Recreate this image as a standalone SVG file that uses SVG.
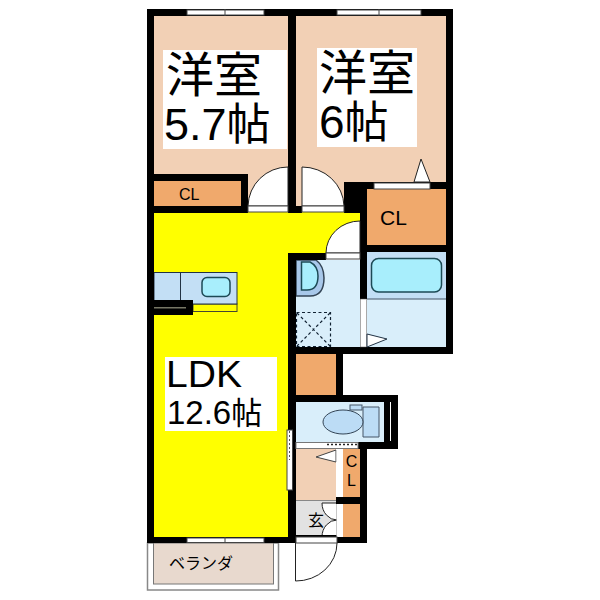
<svg xmlns="http://www.w3.org/2000/svg" width="600" height="600" viewBox="0 0 600 600">
<style>
.w{fill:#000}.win{fill:#fff;stroke:#444;stroke-width:1}
.peach{fill:#f2d0b5}.or{fill:#f0a96c}.lb{fill:#d9eefa}.mb{fill:#c3dff5}.cy{fill:#a8eefc;stroke:#1c4a55;stroke-width:1.500}
.lab{fill:#fff}.t{font-family:"Liberation Sans","Noto Sans CJK JP",sans-serif;fill:#000}
.j{font-family:"Noto Sans CJK JP",sans-serif;fill:#000}
.arc{fill:#fff;stroke:#222;stroke-width:1}
</style>
<rect width="600" height="600" fill="#fff"/>
<g id="veranda"><rect x="147.500" y="543" width="131" height="47" fill="#fff" stroke="#888" stroke-width="1.500"/><rect x="153.500" y="543" width="120" height="41" fill="#e8d9ce" stroke="#777" stroke-width="1"/>
<text class="j" x="169" y="569" font-size="16" textLength="64">ベランダ</text></g>
<g id="ldk"><path d="M150 209H364V256H292V540H150Z" fill="#ff0"/></g>
<g id="room1"><rect x="150" y="12" width="140" height="196" class="peach"/></g>
<g id="room2"><rect x="292" y="12" width="158" height="196" class="peach"/></g>
<g id="cl1"><rect x="154" y="181" width="87" height="25" class="or"/><text class="t" x="179" y="200" font-size="16">CL</text></g>
<g id="cl2"><rect x="367" y="189" width="79" height="56" class="or"/><text class="t" x="380" y="225" font-size="21">CL</text></g>
<g id="bath"><rect x="367" y="252" width="79" height="95" class="lb"/><rect x="367" y="252" width="79" height="47" class="mb"/><rect x="371.500" y="258.500" width="70" height="33.500" rx="7" class="cy"/><path d="M367 299H446" stroke="#456" stroke-width="1"/></g>
<g id="wash"><rect x="296" y="260" width="64" height="87" class="lb"/>
<path d="M296 260H316Q324 266 324 278Q324 296 310 296H296Z" fill="#a8c8ea" stroke="#345" stroke-width="1.500"/>
<path d="M301.500 262H310Q318 266 318 276Q318 290 307 290H301.500Z" class="cy"/>
<path d="M296.500 312.500H330.500V346.500H296.500ZM297 313L330 346M330 313L297 346" fill="none" stroke="#123" stroke-width="1.200" stroke-dasharray="3 2.500"/></g>
<g id="closet"><rect x="296" y="354" width="40" height="41" class="or"/></g>
<g id="toilet"><rect x="296" y="402" width="88" height="40" class="lb"/>
<path d="M363 407H379V437H363Z" fill="#bcdcf5" stroke="#456" stroke-width="1"/><rect x="350" y="405" width="12" height="5" fill="#bcdcf5" stroke="#456" stroke-width="1"/>
<ellipse cx="343" cy="422" rx="20" ry="12" fill="#bcdcf5" stroke="#345" stroke-width="1"/></g>
<g id="hall"><rect x="296" y="449" width="40" height="51" class="peach"/><path d="M336 450L316 457L336 462Z" fill="#fff" stroke="#444" stroke-width="1"/></g>
<g id="cl3"><rect x="343" y="449" width="17" height="48" class="or"/><text class="t" x="351.500" y="467" font-size="16" text-anchor="middle">C</text><text class="t" x="351.500" y="486" font-size="16" text-anchor="middle">L</text></g>
<g id="cl4"><rect x="343" y="504" width="17" height="33" class="or"/></g>
<g id="genkan"><rect x="296" y="500" width="41" height="35" fill="#e2e2e2"/><path d="M296 500.500H337" stroke="#888"/>
<path d="M337 503H322A15 17 0 0 0 337 520ZM337 537H322A15 17 0 0 1 337 520Z" class="arc"/>
<text class="j" x="308" y="526" font-size="16">玄</text></g>
<g id="kitchen"><rect x="193" y="304" width="44" height="7.500" fill="#ff0" stroke="#443" stroke-width="1"/><rect x="154" y="272.500" width="83" height="31.500" class="mb" stroke="#234" stroke-width="1"/><path d="M180.500 272V304" stroke="#234"/>
<rect x="202" y="277.500" width="28" height="19" rx="5" class="cy"/></g>
<g id="walls" class="w">
<rect x="147" y="9" width="306" height="7"/><rect x="147" y="9" width="7" height="534"/><rect x="288" y="9" width="8" height="204"/><rect x="446" y="9" width="7" height="345"/>
<rect x="154" y="174" width="94" height="7"/><rect x="241" y="174" width="7" height="39"/><rect x="147" y="206" width="101" height="7"/><rect x="288" y="206" width="14" height="7"/>
<rect x="344" y="182" width="109" height="7"/><rect x="344" y="182" width="23" height="31"/><rect x="360" y="189" width="7" height="110"/><rect x="360" y="245" width="93" height="7"/>
<rect x="288" y="253" width="38" height="7"/><rect x="288" y="253" width="8" height="177"/><rect x="293" y="430" width="3" height="60"/><rect x="288" y="490" width="8" height="53"/>
<rect x="288" y="347" width="165" height="7"/><rect x="336" y="354" width="7" height="48"/><rect x="296" y="395" width="102" height="7"/><rect x="384" y="395" width="14" height="54"/><rect x="358" y="442" width="40" height="7"/>
<rect x="360" y="449" width="7" height="94"/><rect x="336" y="497" width="31" height="7"/><rect x="147" y="537" width="149" height="6"/><rect x="336" y="537" width="31" height="6"/><rect x="296" y="535" width="41" height="2"/>
<rect x="147" y="300" width="46" height="15"/></g>
<g id="fixtures">
<rect x="154" y="307" width="32" height="1.500" fill="#776"/>
<path d="M390.500 402V441" stroke="#fff" stroke-width="1"/>
<rect x="360.500" y="299" width="6" height="48" fill="#fff" stroke="#555" stroke-width=".5"/><path d="M367 334L387 339L367 347Z" fill="#fff" stroke="#234"/>
<rect x="296" y="442.500" width="62" height="6" fill="#fff" stroke="#777" stroke-width="1"/><path d="M327 444.500H358" stroke="#222" stroke-width="1.500" stroke-dasharray="2 2"/>
<rect x="336.500" y="449" width="6.500" height="48" fill="#fff"/><rect x="336.500" y="504" width="6.500" height="33" fill="#fff"/>
<rect x="287" y="430" width="5.500" height="60" fill="#fff" stroke="#444"/><path d="M289.500 431V460" stroke="#555" stroke-dasharray="2 2"/>
</g>
<g id="windows">
<rect x="187" y="10" width="77" height="5" class="win"/><path d="M225 9V16" stroke="#444"/>
<rect x="337" y="10" width="84" height="5" class="win"/><path d="M379 9V16" stroke="#444"/>
<rect x="187" y="538" width="77" height="4.500" class="win"/><path d="M225 537V543" stroke="#444"/>
<rect x="374" y="183" width="56" height="6" class="win"/>
<path d="M421 159L414 182H430Z" class="arc"/>
</g>
<g id="doors">
<path d="M288 167A40 40 0 0 0 248 206H288Z" class="arc"/><rect x="248" y="206" width="40" height="6" class="win"/>
<path d="M302 167A42 40 0 0 1 344 206H302Z" class="arc"/><rect x="302" y="206" width="42" height="6" class="win"/>
<path d="M360 221A34 32 0 0 0 326 253H360Z" class="arc"/><rect x="326" y="253" width="34" height="6" class="win"/>
<path d="M295.500 543V581A41 38 0 0 0 337 543" fill="#fff" stroke="#222"/><rect x="296" y="537" width="41" height="6" class="win"/>
</g>
<g id="labels">
<rect x="163" y="50" width="124" height="99" class="lab"/><rect x="317" y="48" width="100" height="99" class="lab"/><rect x="165" y="357" width="112" height="74" class="lab"/>
<text class="j" x="166" y="92" font-size="48">洋室</text>
<text x="164" y="140" font-size="45" class="t">5.7<tspan class="j" font-size="44">帖</tspan></text>
<text class="j" x="319" y="90" font-size="48">洋室</text>
<text x="319" y="138" font-size="46" class="t">6<tspan class="j" font-size="44">帖</tspan></text>
<text x="166" y="387" font-size="36" class="t" textLength="76" lengthAdjust="spacingAndGlyphs">LDK</text>
<text x="167" y="424" font-size="33" class="t">12.6<tspan class="j" font-size="31">帖</tspan></text>
</g>
</svg>
